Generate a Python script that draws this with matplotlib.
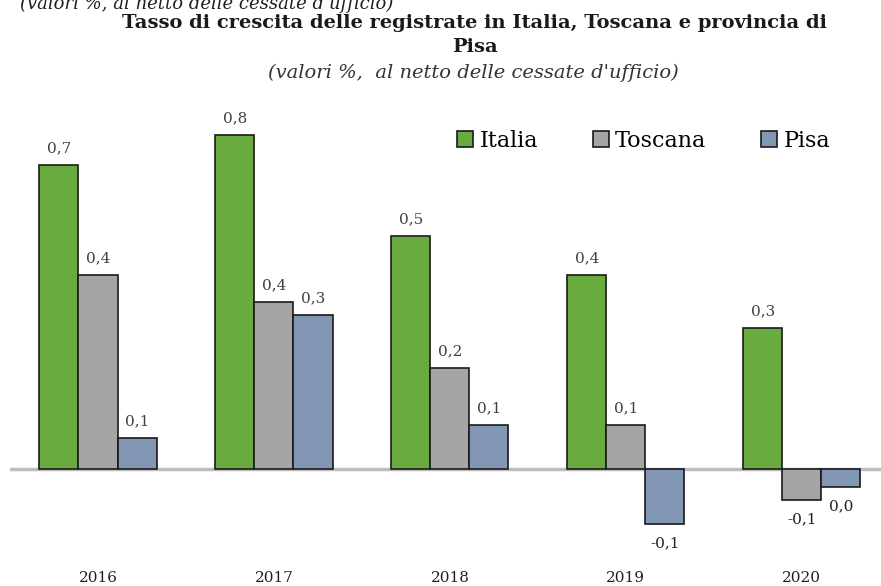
import numpy as np
import matplotlib.pyplot as plt

years = ['2016', '2017', '2018', '2019', '2020']
series = ['Italia', 'Toscana', 'Pisa']
italia = [0.69, 0.76, 0.53, 0.44, 0.32]
toscana = [0.44, 0.38, 0.23, 0.10, -0.07]
pisa = [0.07, 0.35, 0.10, -0.125, -0.04]
italia_lbl = ['0,7', '0,8', '0,5', '0,4', '0,3']
toscana_lbl = ['0,4', '0,4', '0,2', '0,1', '-0,1']
pisa_lbl = ['0,1', '0,3', '0,1', '-0,1', '0,0']

COLORS = ['#6aab3f', '#a5a5a5', '#8197b4']
SERIF = ['DejaVu Serif']

fig = plt.figure(figsize=(8.81, 5.86), dpi=100)
ax = fig.add_axes([10 / 881, 1 - 560 / 586, 871 / 881, 460 / 586])

x = np.arange(len(years))
w = 0.222
values = [italia, toscana, pisa]
labels = [italia_lbl, toscana_lbl, pisa_lbl]
for i, (name, vals, lbls) in enumerate(zip(series, values, labels)):
    xs = x + (i - 1) * w
    ax.bar(xs, vals, w, color=COLORS[i], edgecolor='#1a1a1a', linewidth=1.2,
           label=name, zorder=3)
    for xi, v, t in zip(xs, vals, lbls):
        if v >= 0:
            ax.annotate(t, (xi, v), xytext=(0, 7), textcoords='offset points',
                        ha='center', va='bottom', fontsize=11, color='#404040',
                        family=SERIF)
        else:
            ax.annotate(t, (xi, v), xytext=(0, -9), textcoords='offset points',
                        ha='center', va='top', fontsize=11, color='#202020',
                        family=SERIF)

ax.axhline(0, color='#bdbdbd', lw=2.5, zorder=2)

ax.set_xlim(-0.5, 4.45)
ax.set_ylim(-(560 - 469) / 440, (469 - 100) / 440)
ax.set_xticks(x)
ax.set_xticklabels(years, family=SERIF, fontsize=11, color='#202020')
ax.tick_params(axis='x', length=0, pad=8)
ax.set_yticks([])
for s in ax.spines.values():
    s.set_visible(False)

ax.legend(loc='center left', bbox_to_anchor=(448 / 881, 1 - 141 / 586),
          bbox_transform=fig.transFigure, borderaxespad=0, ncol=3,
          frameon=False, prop={'family': SERIF, 'size': 16},
          handlelength=0.72, handleheight=0.72, handletextpad=0.3,
          columnspacing=2.45)

fig.text(393 / 881, 1 - 4 / 586, "(valori %, al netto delle cessate d'ufficio)",
         ha='right', va='center', fontsize=13, style='italic', family=SERIF,
         color='#202020')
fig.text(475 / 881, 1 - 23 / 586,
         'Tasso di crescita delle registrate in Italia, Toscana e provincia di',
         ha='center', va='center', fontsize=14, weight='bold', family=SERIF,
         color='#1a1a1a')
fig.text(475 / 881, 1 - 47 / 586, 'Pisa', ha='center', va='center',
         fontsize=14, weight='bold', family=SERIF, color='#1a1a1a')
fig.text(473 / 881, 1 - 73 / 586, "(valori %,  al netto delle cessate d'ufficio)",
         ha='center', va='center', fontsize=14, style='italic', family=SERIF,
         color='#333333')

fig.savefig('out.png', dpi=100)
